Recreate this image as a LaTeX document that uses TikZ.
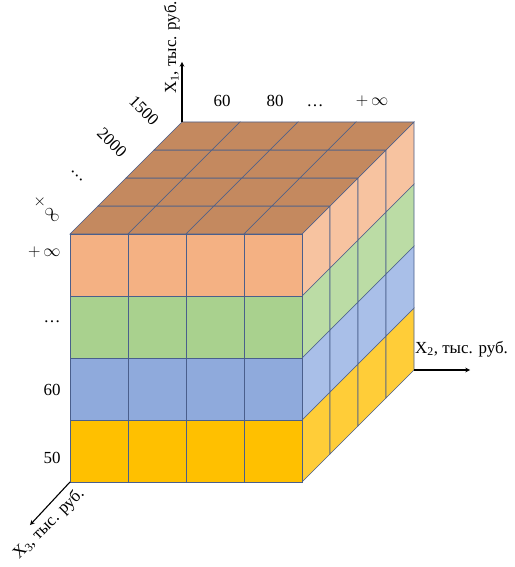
\documentclass[tikz,border=0pt]{standalone}
\usepackage{fontspec}
\setmainfont{Liberation Serif}
\usepackage{xcolor}
\definecolor{topface}{HTML}{C4895F}
\definecolor{layerA}{HTML}{FFC000}
\definecolor{layerB}{HTML}{8FAADC}
\definecolor{layerC}{HTML}{A9D18E}
\definecolor{layerD}{HTML}{F4B183}
\definecolor{sideA}{HTML}{FFCD38}
\definecolor{sideB}{HTML}{A9BFE8}
\definecolor{sideC}{HTML}{BBDCA5}
\definecolor{sideD}{HTML}{F7C3A0}
\definecolor{edgeline}{HTML}{4A5F8C}
\newcommand{\tsub}[1]{\textsubscript{#1}}
\newcommand{\pinf}{$+\,\infty$}

\begin{document}
\begin{tikzpicture}[>=stealth, x=1bp, y=1bp, font=\fontsize{17}{20}\selectfont,
		cell/.style={draw=edgeline, line width=0.7bp},
		axis/.style={->, line width=1.1bp}]
		\useasboundingbox (-70,-85) rectangle (445,482);
		% front and right faces, layer by layer
		\foreach \j/\col/\side in {0/layerA/sideA, 1/layerB/sideB, 2/layerC/sideC, 3/layerD/sideD} {
			\foreach \i in {0,...,3} {
				\filldraw[cell, fill=\col] ({58*\i},{62*\j}) rectangle ++(58,62);
				\filldraw[cell, fill=\side] ({232+28*\i},{62*\j+28*\i}) -- ++(28,28) -- ++(0,62) -- ++(-28,-28) -- cycle;
			}
		}
		% top face
		\foreach \i in {0,...,3} {
			\foreach \k in {0,...,3} {
				\filldraw[cell, fill=topface] ({58*\i+28*\k},{248+28*\k}) -- ++(58,0) -- ++(28,28) -- ++(-58,0) -- cycle;
			}
		}
		\begin{scope}
			\coordinate (O) at (0,0);
			\coordinate (C1) at (112,360);
			\coordinate (C2) at (344,112);
			\coordinate (E1) at (112,420);
			\coordinate (E2) at (400,112);
			\coordinate (E3) at (-40,-43);
			\draw[axis] (C1) -- (E1);
			\draw[axis] (C2) -- (E2);
			\draw[axis] (O) -- (E3);
			\node[rotate=90, anchor=south west, inner sep=1bp] (L1) at (111,387) {X\tsub{1}, тыс. руб.};
			\node[anchor=south west, inner sep=1bp] (L2) at (344,124) {X\tsub{2}, тыс. руб.};
			\node[rotate=45] (L3) at (-21,-42) {X\tsub{3}, тыс. руб.};
		\end{scope}
		% values along X2
		\node (a1) at (152,381) {60};
		\node (a2) at (205,381) {80};
		\node[anchor=base] (a3) at (245,375) {…};
		\node (a4) at (302,381) {\pinf};
		% values along X3
		\node[rotate=-45] (b1) at (74,371) {1500};
		\node[rotate=-45] (b2) at (42,339) {2000};
		\node[rotate=-45] (b3) at (7,306) {…};
		\node[rotate=-45] (b4) at (-23,273) {\pinf};
		% values along X1
		\node[anchor=east] (c1) at (-6,24) {50};
		\node[anchor=east] (c2) at (-6,92) {60};
		\node[anchor=base east] (c3) at (-6,159) {…};
		\node[anchor=east] (c4) at (-6,230) {\pinf};
	\end{tikzpicture}
\end{document}
